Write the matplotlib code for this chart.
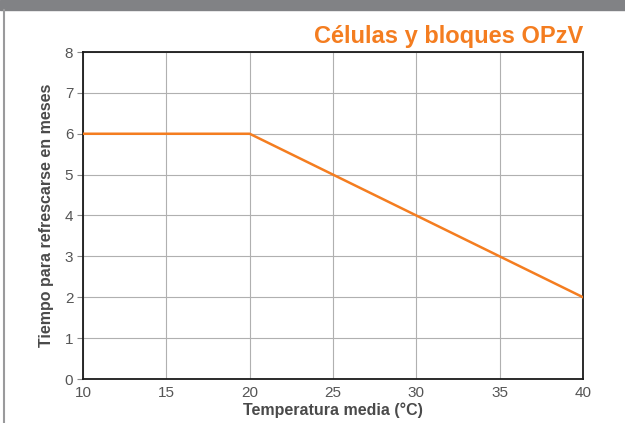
import matplotlib.pyplot as plt
from matplotlib.patches import Rectangle
from matplotlib.lines import Line2D

# datos de la curva
temperaturas = [10, 20, 40]
meses = [6, 6, 2]

x_ticks = [10, 15, 20, 25, 30, 35, 40]
y_ticks = [0, 1, 2, 3, 4, 5, 6, 7, 8]

naranja = '#F47D20'
gris_texto = '#555555'

plt.rcParams['font.family'] = ['Liberation Sans', 'DejaVu Sans']

fig = plt.figure(figsize=(6.25, 4.23), dpi=100)
ax = fig.add_axes([83 / 625, 1 - 379 / 423, 500 / 625, 327 / 423])

# barra gris superior y borde izquierdo
fig.patches.append(Rectangle((0, 1 - 10 / 423), 1, 10 / 423, transform=fig.transFigure,
                             color='#818285', zorder=0))
fig.lines.append(Line2D([3.5 / 625, 3.5 / 625], [0, 1 - 10 / 423], transform=fig.transFigure,
                        color='#9a9a9c', linewidth=1.5))

ax.plot(temperaturas, meses, color=naranja, linewidth=1.8, zorder=3)

ax.set_xlim(10, 40)
ax.set_ylim(0, 8)
ax.set_xticks(x_ticks)
ax.set_yticks(y_ticks)
ax.grid(True, color='#b0b0b0', linewidth=0.8)
ax.tick_params(axis='x', length=0, pad=5, labelsize=11, labelcolor=gris_texto)
ax.tick_params(axis='y', length=4, width=0.8, color='#888888', pad=3, labelsize=11,
               labelcolor=gris_texto)
for s in ax.spines.values():
    s.set_color('#1a1a1a')
    s.set_linewidth(1.3)

ax.set_xlabel("Temperatura media (°C)", fontsize=11.5, fontweight='bold', color='#4a4a4a', labelpad=2)
ax.set_ylabel("Tiempo para refrescarse en meses", fontsize=11.5, fontweight='bold', color='#4a4a4a',
              labelpad=8)

fig.text(583 / 625, 1 - 36 / 423, "Células y bloques OPzV", ha='right', va='center',
         fontsize=17, fontweight='bold', color=naranja)

fig.savefig("out.png", dpi=100)
